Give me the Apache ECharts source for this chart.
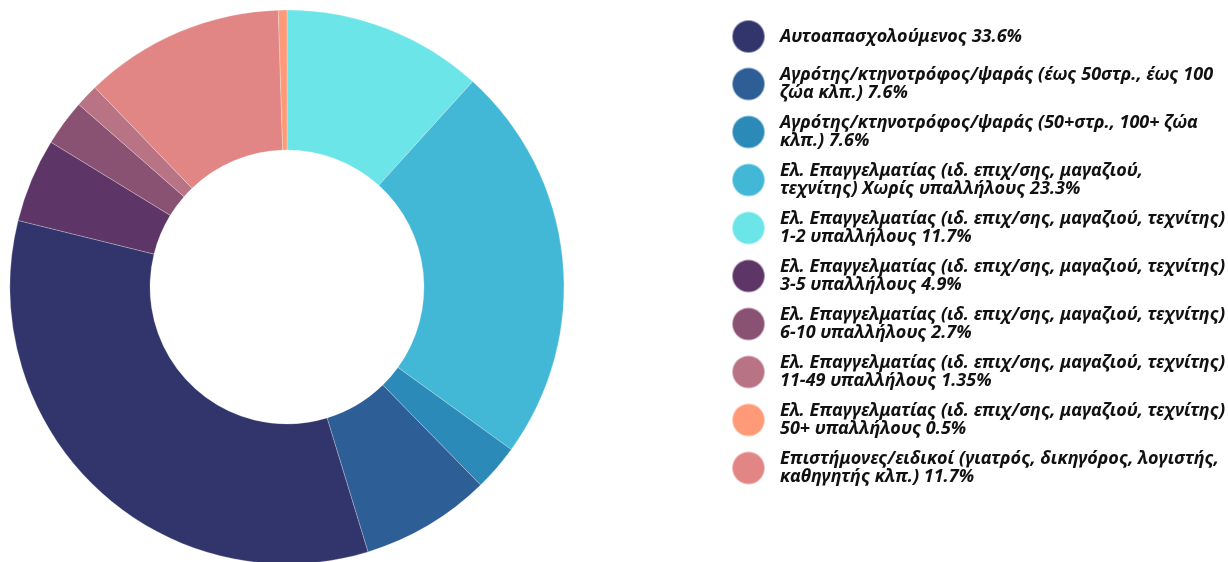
<!DOCTYPE html>
<html>
<head>
<meta charset="utf-8">
<script src="https://cdn.jsdelivr.net/npm/echarts@6/dist/echarts.min.js"></script>
<style>
  html, body { margin: 0; padding: 0; background: #fff; }
  #chart { width: 1228px; height: 562px; }
</style>
</head>
<body>
<div id="chart"></div>
<script>
// κατηγορίες με τη σειρά του υπομνήματος
var categories = [
    'Αυτοαπασχολούμενος',
    'Αγρότης/κτηνοτρόφος/ψαράς (έως 50στρ., έως 100 ζώα κλπ.)',
    'Αγρότης/κτηνοτρόφος/ψαράς (50+στρ., 100+ ζώα κλπ.)',
    'Ελ. Επαγγελματίας (ιδ. επιχ/σης, μαγαζιού, τεχνίτης) Χωρίς υπαλλήλους',
    'Ελ. Επαγγελματίας (ιδ. επιχ/σης, μαγαζιού, τεχνίτης) 1-2 υπαλλήλους',
    'Ελ. Επαγγελματίας (ιδ. επιχ/σης, μαγαζιού, τεχνίτης) 3-5 υπαλλήλους',
    'Ελ. Επαγγελματίας (ιδ. επιχ/σης, μαγαζιού, τεχνίτης) 6-10 υπαλλήλους',
    'Ελ. Επαγγελματίας (ιδ. επιχ/σης, μαγαζιού, τεχνίτης) 11-49 υπαλλήλους',
    'Ελ. Επαγγελματίας (ιδ. επιχ/σης, μαγαζιού, τεχνίτης) 50+ υπαλλήλους',
    'Επιστήμονες/ειδικοί (γιατρός, δικηγόρος, λογιστής, καθηγητής κλπ.)'
];
// κείμενο υπομνήματος (με αλλαγές γραμμής)
var legendText = [
    'Αυτοαπασχολούμενος 33.6%',
    'Αγρότης/κτηνοτρόφος/ψαράς (έως 50στρ., έως 100\nζώα κλπ.) 7.6%',
    'Αγρότης/κτηνοτρόφος/ψαράς (50+στρ., 100+ ζώα\nκλπ.) 7.6%',
    'Ελ. Επαγγελματίας (ιδ. επιχ/σης, μαγαζιού,\nτεχνίτης) Χωρίς υπαλλήλους 23.3%',
    'Ελ. Επαγγελματίας (ιδ. επιχ/σης, μαγαζιού, τεχνίτης)\n1-2 υπαλλήλους 11.7%',
    'Ελ. Επαγγελματίας (ιδ. επιχ/σης, μαγαζιού, τεχνίτης)\n3-5 υπαλλήλους 4.9%',
    'Ελ. Επαγγελματίας (ιδ. επιχ/σης, μαγαζιού, τεχνίτης)\n6-10 υπαλλήλους 2.7%',
    'Ελ. Επαγγελματίας (ιδ. επιχ/σης, μαγαζιού, τεχνίτης)\n11-49 υπαλλήλους 1.35%',
    'Ελ. Επαγγελματίας (ιδ. επιχ/σης, μαγαζιού, τεχνίτης)\n50+ υπαλλήλους 0.5%',
    'Επιστήμονες/ειδικοί (γιατρός, δικηγόρος, λογιστής,\nκαθηγητής κλπ.) 11.7%'
];
// τιμές τομέων (όπως φαίνονται στο γράφημα)
var values = [33.6, 7.6, 2.7, 23.3, 11.7, 4.9, 2.7, 1.35, 0.5, 11.7];
var colors = ['#31356b', '#2e5e96', '#2c8ab8', '#42b7d6', '#6be5e8',
              '#5d3567', '#8a5272', '#b87385', '#ff9a78', '#e28585'];
// σειρά σχεδίασης δεξιόστροφα από πάνω
var sliceOrder = [4, 3, 2, 1, 0, 5, 6, 7, 9, 8];

var chart = echarts.init(document.getElementById('chart'));

var pieData = sliceOrder.map(function (i) {
    return { name: categories[i], value: values[i], itemStyle: { color: colors[i] } };
});

var option = {
    animation: false,
    legend: {
        orient: 'vertical',
        left: 731,
        top: 19,
        padding: 0,
        itemGap: 12,
        itemWidth: 33,
        itemHeight: 33,
        icon: 'circle',
        data: categories,
        formatter: function (name) {
            return legendText[categories.indexOf(name)];
        },
        textStyle: {
            fontFamily: 'Noto Sans',
            fontStyle: 'italic',
            fontWeight: 'bold',
            fontSize: 18,
            lineHeight: 18,
            color: '#111',
            padding: [0, 0, 0, 10]
        }
    },
    series: [{
        type: 'pie',
        center: [287, 287],
        radius: [137, 277],
        startAngle: 90,
        clockwise: true,
        avoidLabelOverlap: false,
        label: { show: false },
        labelLine: { show: false },
        itemStyle: { borderColor: 'rgba(255,255,255,0.5)', borderWidth: 0.5 },
        data: pieData
    }]
};

chart.setOption(option);
</script>
</body>
</html>
